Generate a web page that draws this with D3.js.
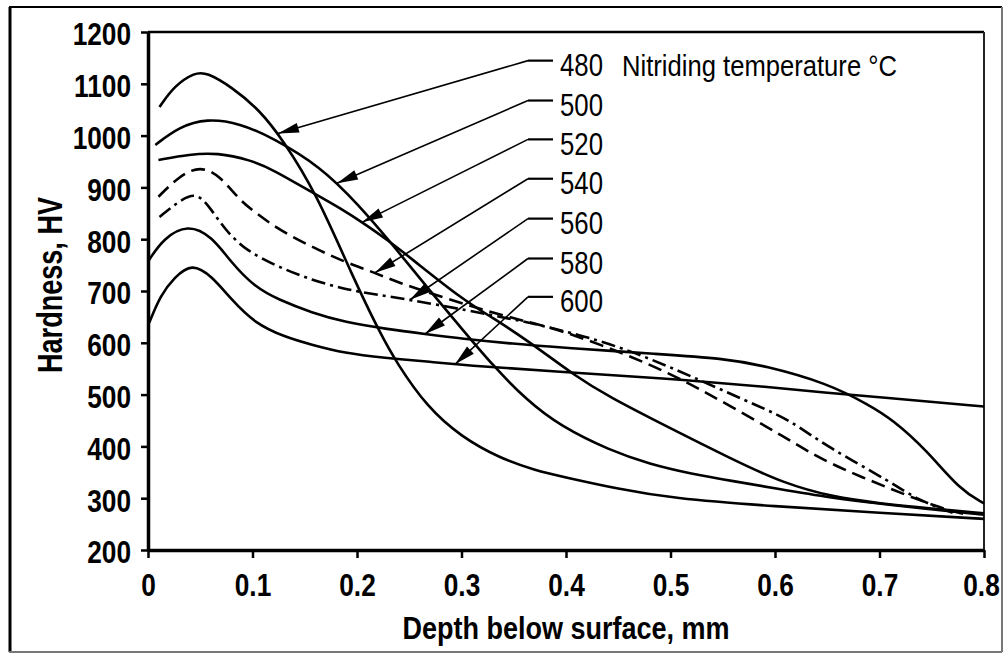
<!DOCTYPE html>
<html>
<head>
<meta charset="utf-8">
<script src="https://cdn.jsdelivr.net/npm/d3@7/dist/d3.min.js"></script>
<style>
body { margin: 0; background: #fff; }
svg text { font-family: "Liberation Sans", Arial, sans-serif; fill: #000; }
</style>
</head>
<body>
<svg id="chart" width="1007" height="653"></svg>
<script>
// hardness profiles, depth in mm, hardness in HV
var depth480 = [0.011, 0.025, 0.045, 0.056, 0.08, 0.107, 0.129, 0.161, 0.196, 0.222, 0.238, 0.267, 0.3, 0.337, 0.37, 0.4, 0.45, 0.5, 0.6, 0.7, 0.8];
var hv480    = [1055, 1096, 1122, 1122, 1094, 1049, 992, 889, 727, 619, 561, 476, 418, 377, 354, 340, 318, 300, 284, 272, 260];

var depth500 = [0.007, 0.03, 0.056, 0.088, 0.12, 0.165, 0.2, 0.238, 0.27, 0.3, 0.33, 0.363, 0.394, 0.442, 0.48, 0.52, 0.56, 0.6, 0.656, 0.7, 0.8];
var hv500    = [982, 1017, 1033, 1024, 995, 940, 870, 780, 700, 628, 556, 488, 440, 392, 366, 347, 333, 319, 300, 289, 268];

var depth520 = [0.01, 0.04, 0.066, 0.098, 0.12, 0.158, 0.184, 0.209, 0.228, 0.25, 0.3, 0.33, 0.363, 0.41, 0.442, 0.49, 0.56, 0.608, 0.656, 0.7, 0.75, 0.8];
var hv520    = [953, 964, 967, 953, 934, 889, 860, 827, 800, 766, 685, 648, 605, 534, 495, 445, 374, 329, 302, 290, 280, 271];

var depth540 = [0.01, 0.03, 0.05, 0.069, 0.088, 0.1, 0.125, 0.157, 0.188, 0.215, 0.241, 0.282, 0.321, 0.36, 0.394, 0.455, 0.5, 0.535, 0.586, 0.614, 0.65, 0.713, 0.755, 0.78];
var hv540    = [882, 922, 942, 922, 875, 856, 818, 785, 756, 737, 715, 688, 663, 642, 625, 580, 540, 503, 445, 412, 368, 316, 283, 270];

var depth560 = [0.011, 0.03, 0.047, 0.061, 0.074, 0.093, 0.125, 0.157, 0.188, 0.209, 0.251, 0.305, 0.35, 0.385, 0.455, 0.528, 0.586, 0.614, 0.65, 0.713, 0.736, 0.77];
var hv560    = [843, 874, 892, 856, 818, 779, 746, 721, 704, 696, 683, 663, 645, 630, 592, 528, 476, 451, 399, 329, 297, 272];

var depth580 = [0.001, 0.015, 0.038, 0.061, 0.08, 0.102, 0.125, 0.157, 0.188, 0.23, 0.265, 0.3, 0.35, 0.394, 0.49, 0.55, 0.59, 0.65, 0.69, 0.713, 0.745, 0.777, 0.8];
var hv580    = [760, 802, 829, 806, 754, 708, 683, 658, 640, 626, 617, 608, 598, 591, 578, 570, 556, 522, 480, 451, 393, 316, 290];

var depth600 = [0.001, 0.012, 0.025, 0.042, 0.061, 0.08, 0.102, 0.131, 0.157, 0.188, 0.225, 0.273, 0.3, 0.394, 0.49, 0.6, 0.65, 0.7, 0.8];
var hv600    = [638, 692, 726, 754, 729, 683, 638, 611, 596, 580, 571, 563, 557, 544, 532, 514, 503, 495, 477];

var temperatures = ["480", "500", "520", "540", "560", "580", "600"];
var lineDash = ["", "", "", "14,7", "14,5,3,5", "", ""];

// depth where each leader arrow touches its curve
var arrowTipDepth = [0.1244, 0.1809, 0.2048, 0.2172, 0.2507, 0.2651, 0.2938];
// hardness level of each label row
var labelHV = [1137, 1060, 985, 909, 832, 755, 681];

var xTicks = [0, 0.1, 0.2, 0.3, 0.4, 0.5, 0.6, 0.7, 0.8];
var yTicks = [200, 300, 400, 500, 600, 700, 800, 900, 1000, 1100, 1200];

var series = [
    {depth: depth480, hv: hv480},
    {depth: depth500, hv: hv500},
    {depth: depth520, hv: hv520},
    {depth: depth540, hv: hv540},
    {depth: depth560, hv: hv560},
    {depth: depth580, hv: hv580},
    {depth: depth600, hv: hv600}
];

var svg = d3.select("#chart");
var plotLeft = 148, plotRight = 984, plotTop = 32, plotBottom = 550;

var x = d3.scaleLinear().domain([0, 0.8]).range([plotLeft, plotRight]);
var y = d3.scaleLinear().domain([200, 1200]).range([plotBottom, plotTop]);

// squeeze a text to a condensed look
function condense(sel, factor) {
    sel.each(function() {
        var w = this.getComputedTextLength();
        d3.select(this).attr("textLength", w * factor).attr("lengthAdjust", "spacingAndGlyphs");
    });
}

// outer frame
svg.append("line").attr("x1", 10).attr("y1", 7).attr("x2", 10).attr("y2", 652)
    .attr("stroke", "#000").attr("stroke-width", 3);
svg.append("line").attr("x1", 9).attr("y1", 7).attr("x2", 1002).attr("y2", 7)
    .attr("stroke", "#000").attr("stroke-width", 2);
svg.append("line").attr("x1", 1002).attr("y1", 7).attr("x2", 1002).attr("y2", 652)
    .attr("stroke", "#777").attr("stroke-width", 2);
svg.append("line").attr("x1", 9).attr("y1", 652).attr("x2", 1002).attr("y2", 652)
    .attr("stroke", "#777").attr("stroke-width", 2);

// top and right edge of the plot box
svg.append("line").attr("x1", plotLeft).attr("y1", plotTop).attr("x2", plotRight).attr("y2", plotTop)
    .attr("stroke", "#000").attr("stroke-width", 2.5);
svg.append("line").attr("x1", plotRight).attr("y1", plotTop).attr("x2", plotRight).attr("y2", plotBottom)
    .attr("stroke", "#222").attr("stroke-width", 2);

// axes
var yAxis = d3.axisLeft(y).tickValues(yTicks).tickSize(7).tickSizeOuter(0).tickPadding(10)
    .tickFormat(d3.format("d"));
var xAxis = d3.axisBottom(x).tickValues(xTicks).tickSize(8).tickSizeOuter(0).tickPadding(15)
    .tickFormat(function(d) { return d === 0 ? "0" : String(d); });

var gy = svg.append("g").attr("transform", "translate(" + plotLeft + ",0)").call(yAxis);
var gx = svg.append("g").attr("transform", "translate(0," + plotBottom + ")").call(xAxis);

[gx, gy].forEach(function(g) {
    g.select(".domain").attr("stroke", "#000").attr("stroke-width", 3.5);
    g.selectAll(".tick line").attr("stroke", "#000").attr("stroke-width", 2.5);
    g.selectAll(".tick text")
        .attr("font-family", "'Liberation Sans', Arial, sans-serif")
        .attr("font-size", 32)
        .attr("font-weight", "bold")
        .attr("fill", "#000");
    condense(g.selectAll(".tick text"), 0.82);
});
gy.selectAll(".tick text").attr("dy", "0.4em");
gx.selectAll(".tick text").filter(function(d) { return d === 0.8; }).attr("dx", -3);

// curves
var line = d3.line()
    .x(function(d) { return x(d[0]); })
    .y(function(d) { return y(d[1]); })
    .curve(d3.curveBasis);

svg.append("g").selectAll("path")
    .data(series)
    .enter().append("path")
    .attr("d", function(s) { return line(d3.zip(s.depth, s.hv)); })
    .attr("fill", "none")
    .attr("stroke", "#000")
    .attr("stroke-width", 2.6)
    .attr("stroke-dasharray", function(s, i) { return lineDash[i] || null; });

// leader arrows and labels
var labelX = 560, elbowX = 528, stubEnd = 553;
var ann = svg.append("g");
temperatures.forEach(function(t, i) {
    var ly = y(labelHV[i]);
    var sy = ly - 4;
    var s = series[i];
    var hvAt = d3.scaleLinear().domain(s.depth).range(s.hv);
    var tx = x(arrowTipDepth[i]), ty = y(hvAt(arrowTipDepth[i]));

    ann.append("line").attr("x1", elbowX).attr("y1", sy).attr("x2", stubEnd).attr("y2", sy)
        .attr("stroke", "#000").attr("stroke-width", 2.2);
    ann.append("line").attr("x1", elbowX).attr("y1", sy).attr("x2", tx).attr("y2", ty)
        .attr("stroke", "#000").attr("stroke-width", 1.6);

    var dx = elbowX - tx, dy = sy - ty, len = Math.sqrt(dx * dx + dy * dy);
    var ux = dx / len, uy = dy / len, hl = 21, hw = 5;
    var bx = tx + ux * hl, by = ty + uy * hl;
    ann.append("path")
        .attr("d", "M" + tx + "," + ty +
                   "L" + (bx - uy * hw) + "," + (by + ux * hw) +
                   "L" + (bx + uy * hw) + "," + (by - ux * hw) + "Z")
        .attr("fill", "#000");

    ann.append("text")
        .attr("x", labelX).attr("y", ly + 11.5)
        .attr("font-size", 31)
        .attr("textLength", 43).attr("lengthAdjust", "spacingAndGlyphs")
        .text(t);
});

ann.append("text")
    .attr("x", 622).attr("y", y(labelHV[0]) + 11.5)
    .attr("font-size", 29)
    .attr("textLength", 275).attr("lengthAdjust", "spacingAndGlyphs")
    .text("Nitriding temperature \u00b0C");

// axis titles
svg.append("text")
    .attr("x", (plotLeft + plotRight) / 2).attr("y", 639)
    .attr("text-anchor", "middle")
    .attr("font-size", 31).attr("font-weight", "bold")
    .attr("textLength", 327).attr("lengthAdjust", "spacingAndGlyphs")
    .text("Depth below surface, mm");

svg.append("text")
    .attr("transform", "translate(62,285) rotate(-90)")
    .attr("text-anchor", "middle")
    .attr("font-size", 35).attr("font-weight", "bold")
    .attr("textLength", 176).attr("lengthAdjust", "spacingAndGlyphs")
    .text("Hardness, HV");
</script>
</body>
</html>
